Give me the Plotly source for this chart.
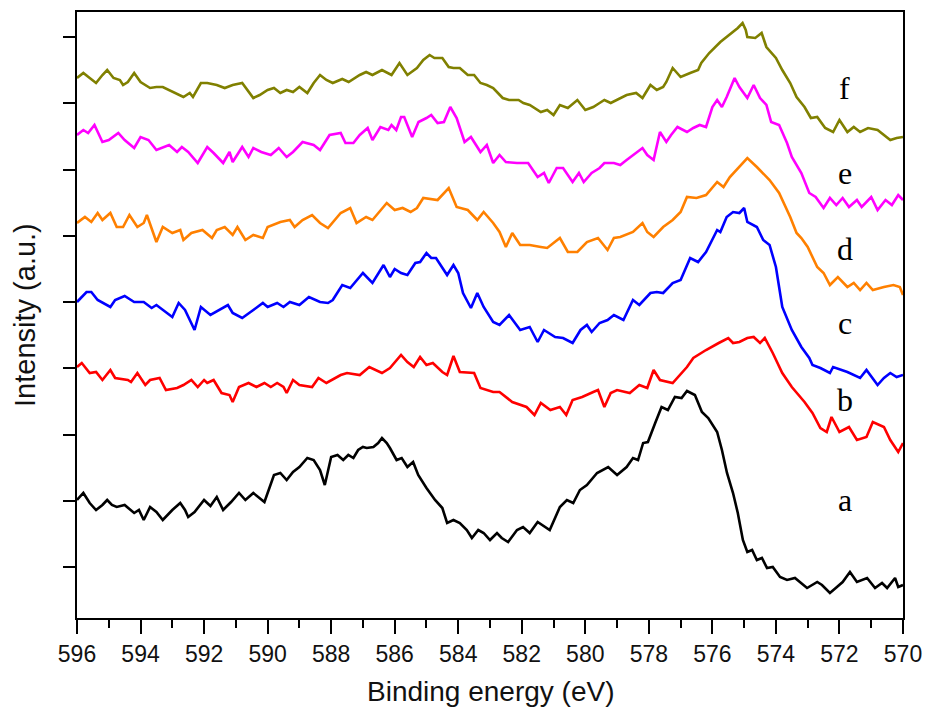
import plotly.graph_objects as go

# ---- data (binding energy in eV, intensity in arbitrary units) ----
a_x = [596.0, 595.8, 595.6, 595.4, 595.2, 595.05, 594.9, 594.75, 594.5, 594.2, 594.05, 593.9, 593.7, 593.5,
       593.3, 593.0, 592.75, 592.6, 592.5, 592.3, 592.0, 591.8, 591.6, 591.4, 591.15, 590.9, 590.7, 590.45,
       590.1, 589.8, 589.6, 589.4, 589.2, 589.0, 588.75, 588.55, 588.35, 588.2, 588.0, 587.8, 587.62, 587.46,
       587.3, 587.15, 587.0, 586.88, 586.67, 586.52, 586.4, 586.25, 586.15, 585.94, 585.78, 585.6, 585.42, 585.26,
       585.0, 584.73, 584.5, 584.35, 584.15, 583.95, 583.73, 583.57, 583.37, 583.2, 583.0, 582.78, 582.63, 582.43,
       582.15, 581.96, 581.75, 581.5, 581.12, 580.8, 580.58, 580.38, 580.17, 579.95, 579.63, 579.28, 579.0, 578.7,
       578.5, 578.34, 578.18, 578.03, 577.8, 577.6, 577.4, 577.18, 576.97, 576.8, 576.55, 576.33, 576.13, 575.85,
       575.7, 575.54, 575.35, 575.2, 575.04, 574.9, 574.75, 574.6, 574.44, 574.28, 574.1, 573.87, 573.65, 573.4,
       573.02, 572.7, 572.55, 572.3, 572.08, 571.9, 571.67, 571.45, 571.13, 570.88, 570.66, 570.5, 570.25, 570.15,
       570.0]
a_y = [118, 125, 115, 108, 113, 118, 113, 111, 113, 105, 108, 98, 111, 106,
       98, 108, 115, 108, 101, 106, 118, 112, 121, 108, 116, 125, 118, 125,
       116, 143, 145, 138, 146, 151, 160, 158, 148, 133, 161, 163, 158, 163,
       160, 168, 171, 170, 171, 175, 180, 175, 170, 158, 160, 151, 156, 143,
       130, 118, 110, 95, 98, 95, 88, 80, 88, 85, 78, 85, 80, 76,
       88, 91, 85, 96, 88, 111, 118, 115, 128, 133, 145, 151, 143, 151,
       160, 158, 175, 176, 195, 211, 208, 221, 220, 227, 223, 206, 200, 186,
       168, 145, 125, 105, 78, 66, 68, 58, 60, 50, 51, 41, 38, 40,
       30, 36, 33, 25, 31, 36, 46, 36, 40, 30, 35, 30, 40, 31,
       33]

b_x = [596.0, 595.85, 595.6, 595.4, 595.2, 594.95, 594.8, 594.4, 594.3, 594.1, 593.85, 593.7, 593.4, 593.2,
       592.85, 592.65, 592.4, 592.2, 592.0, 591.9, 591.7, 591.45, 591.2, 591.1, 590.9, 590.6, 590.35, 590.1,
       589.9, 589.7, 589.5, 589.4, 589.2, 589.0, 588.6, 588.4, 588.15, 587.7, 587.5, 587.1, 586.8, 586.4,
       586.15, 585.8, 585.6, 585.4, 585.2, 585.0, 584.8, 584.5, 584.35, 584.15, 583.95, 583.5, 583.3, 582.9,
       582.7, 582.3, 581.85, 581.6, 581.4, 581.1, 580.8, 580.6, 580.4, 580.1, 579.75, 579.6, 579.4, 579.2,
       579.0, 578.6, 578.3, 578.05, 577.85, 577.65, 577.25, 576.8, 576.6, 576.2, 575.8, 575.5, 575.35, 575.15,
       574.9, 574.7, 574.5, 574.35, 574.1, 574.0, 573.8, 573.5, 573.1, 572.85, 572.6, 572.4, 572.25, 572.0,
       571.7, 571.45, 571.15, 570.95, 570.6, 570.4, 570.15, 570.0]
b_y = [251, 255, 245, 246, 238, 248, 240, 238, 236, 245, 233, 238, 240, 228,
       230, 233, 238, 231, 238, 235, 238, 225, 223, 216, 231, 235, 231, 235,
       231, 235, 231, 225, 238, 233, 231, 240, 235, 243, 245, 243, 251, 245,
       250, 263, 256, 251, 261, 253, 255, 246, 243, 262, 246, 245, 230, 226,
       226, 216, 211, 203, 215, 208, 211, 203, 218, 221, 226, 228, 211, 225,
       228, 225, 233, 230, 248, 238, 235, 251, 260, 268, 275, 280, 275, 276,
       280, 281, 275, 280, 265, 258, 245, 231, 216, 205, 190, 186, 201, 186,
       191, 178, 181, 196, 191, 178, 166, 175]

c_x = [596.0, 595.7, 595.55, 595.35, 594.95, 594.8, 594.5, 594.2, 593.9, 593.65, 593.5, 593.3, 593.0, 592.8,
       592.6, 592.3, 592.1, 591.8, 591.5, 591.25, 591.1, 590.8, 590.45, 590.15, 590.0, 589.7, 589.5, 589.3,
       589.0, 588.7, 588.35, 588.1, 587.95, 587.65, 587.4, 587.0, 586.7, 586.35, 586.15, 586.0, 585.8, 585.6,
       585.35, 585.2, 585.0, 584.85, 584.7, 584.35, 584.15, 584.0, 583.85, 583.6, 583.4, 583.2, 582.9, 582.7,
       582.4, 582.05, 581.75, 581.5, 581.3, 580.95, 580.7, 580.4, 580.15, 579.95, 579.8, 579.55, 579.3, 579.1,
       578.8, 578.5, 578.3, 577.95, 577.75, 577.55, 577.25, 577.0, 576.7, 576.45, 576.2, 575.85, 575.75, 575.55,
       575.35, 575.15, 575.0, 574.9, 574.6, 574.4, 574.2, 574.0, 573.8, 573.5, 573.2, 572.95, 572.85, 572.6,
       572.3, 572.2, 571.75, 571.35, 571.15, 570.8, 570.6, 570.4, 570.2, 570.0]
c_y = [316, 326, 326, 318, 311, 318, 322, 316, 316, 310, 313, 308, 301, 315,
       308, 288, 311, 303, 308, 313, 305, 300, 308, 315, 311, 315, 311, 316,
       313, 321, 316, 315, 318, 333, 330, 345, 335, 353, 341, 349, 345, 343,
       355, 356, 365, 360, 360, 343, 353, 345, 325, 310, 325, 311, 296, 293,
       303, 288, 291, 276, 288, 281, 280, 275, 288, 293, 286, 295, 298, 303,
       298, 318, 313, 325, 326, 325, 335, 338, 360, 356, 366, 388, 386, 401,
       406, 405, 410, 396, 391, 378, 373, 351, 311, 288, 271, 260, 253, 250,
       245, 251, 246, 240, 248, 233, 240, 245, 241, 243]

d_x = [596.0, 595.75, 595.55, 595.35, 595.2, 594.95, 594.75, 594.55, 594.35, 594.1, 593.9, 593.8, 593.5, 593.3,
       593.0, 592.75, 592.65, 592.4, 592.05, 591.75, 591.6, 591.35, 591.1, 590.95, 590.7, 590.45, 590.15, 590.0,
       589.6, 589.3, 589.15, 588.9, 588.6, 588.35, 588.1, 587.7, 587.4, 587.2, 586.9, 586.7, 586.25, 586.0,
       585.75, 585.5, 585.3, 585.1, 584.65, 584.3, 584.05, 583.7, 583.4, 583.2, 582.9, 582.7, 582.5, 582.3,
       582.05, 581.75, 581.4, 581.2, 580.8, 580.55, 580.25, 579.95, 579.6, 579.3, 579.1, 578.9, 578.5, 578.2,
       578.05, 577.85, 577.55, 577.25, 577.0, 576.8, 576.5, 576.2, 575.85, 575.65, 575.45, 575.15, 574.9, 574.6,
       574.4, 574.2, 573.9, 573.55, 573.35, 573.2, 573.0, 572.7, 572.5, 572.3, 572.05, 571.75, 571.55, 571.35,
       571.15, 570.95, 570.6, 570.3, 570.1, 570.0]
d_y = [395, 401, 396, 405, 398, 405, 391, 391, 403, 391, 395, 403, 376, 391,
       385, 388, 378, 385, 388, 380, 388, 391, 383, 391, 378, 383, 380, 391,
       396, 398, 391, 398, 403, 395, 390, 405, 410, 395, 401, 398, 415, 408,
       410, 406, 410, 420, 418, 430, 411, 408, 398, 406, 395, 386, 371, 385,
       373, 373, 371, 370, 380, 366, 366, 376, 380, 368, 380, 381, 386, 395,
       386, 381, 391, 398, 406, 421, 420, 423, 436, 431, 441, 451, 460, 451,
       445, 438, 425, 401, 385, 380, 371, 351, 345, 333, 341, 331, 335, 328,
       335, 328, 331, 333, 331, 323]

e_x = [596.0, 595.8, 595.65, 595.45, 595.2, 595.0, 594.7, 594.5, 594.2, 594.0, 593.75, 593.5, 593.1, 592.85,
       592.7, 592.5, 592.2, 591.9, 591.7, 591.4, 591.2, 591.1, 590.8, 590.6, 590.45, 590.2, 589.9, 589.65,
       589.4, 589.2, 588.9, 588.55, 588.35, 588.05, 587.7, 587.55, 587.3, 587.1, 586.85, 586.7, 586.45, 586.2,
       586.1, 585.95, 585.8, 585.7, 585.45, 585.25, 585.0, 584.85, 584.65, 584.45, 584.25, 584.05, 583.8, 583.6,
       583.3, 583.1, 582.9, 582.7, 582.5, 582.15, 581.8, 581.5, 581.3, 581.15, 580.9, 580.7, 580.4, 580.2,
       580.05, 579.8, 579.55, 579.4, 579.1, 578.9, 578.7, 578.4, 578.2, 578.05, 577.85, 577.65, 577.45, 577.3,
       577.1, 576.8, 576.6, 576.4, 576.2, 576.0, 575.85, 575.7, 575.55, 575.3, 575.15, 574.9, 574.7, 574.5,
       574.3, 574.15, 573.9, 573.65, 573.5, 573.2, 572.95, 572.75, 572.5, 572.3, 572.1, 571.9, 571.7, 571.45,
       571.3, 571.0, 570.8, 570.55, 570.35, 570.15, 570.0]
e_y = [483, 488, 485, 493, 476, 478, 485, 478, 470, 481, 478, 468, 473, 466,
       471, 466, 455, 471, 465, 455, 466, 456, 471, 461, 470, 466, 463, 470,
       461, 466, 476, 473, 468, 483, 485, 475, 475, 483, 490, 478, 491, 488,
       493, 488, 501, 501, 481, 496, 500, 503, 495, 496, 511, 500, 476, 481,
       466, 473, 455, 463, 456, 455, 455, 441, 445, 435, 450, 450, 436, 445,
       436, 445, 450, 455, 455, 453, 458, 465, 470, 463, 458, 486, 476, 483,
       491, 486, 490, 493, 491, 511, 518, 511, 521, 540, 531, 520, 533, 520,
       513, 496, 493, 475, 461, 445, 425, 421, 410, 420, 413, 420, 411, 418,
       411, 421, 408, 418, 413, 423, 418]

f_x = [596.0, 595.8, 595.6, 595.4, 595.2, 595.05, 594.85, 594.65, 594.55, 594.4, 594.2, 594.0, 593.7, 593.5,
       593.3, 593.0, 592.65, 592.45, 592.35, 592.1, 591.9, 591.6, 591.35, 591.1, 590.8, 590.45, 590.25, 590.0,
       589.8, 589.6, 589.4, 589.2, 589.0, 588.75, 588.55, 588.35, 588.15, 587.95, 587.65, 587.45, 587.25, 587.1,
       586.9, 586.7, 586.4, 586.1, 585.85, 585.6, 585.3, 585.1, 584.9, 584.75, 584.5, 584.3, 584.15, 583.95,
       583.7, 583.5, 583.3, 583.1, 582.9, 582.6, 582.4, 582.1, 581.95, 581.75, 581.4, 581.2, 581.0, 580.8,
       580.55, 580.25, 580.0, 579.75, 579.55, 579.4, 579.2, 578.9, 578.7, 578.4, 578.2, 577.95, 577.75, 577.55,
       577.45, 577.25, 577.0, 576.7, 576.45, 576.35, 576.1, 575.75, 575.55, 575.4, 575.2, 575.05, 574.95, 574.9,
       574.65, 574.45, 574.3, 574.0, 573.8, 573.55, 573.35, 573.1, 572.9, 572.7, 572.45, 572.2, 572.0, 571.75,
       571.55, 571.35, 571.1, 570.8, 570.6, 570.4, 570.2, 570.0]
f_y = [540, 545, 540, 535, 543, 548, 540, 538, 533, 536, 545, 536, 530, 531,
       531, 526, 521, 525, 521, 535, 535, 533, 530, 533, 535, 520, 523, 528,
       530, 525, 528, 526, 531, 525, 535, 543, 538, 535, 539, 536, 540, 543,
       546, 543, 548, 543, 555, 543, 550, 558, 563, 560, 560, 551, 550, 550,
       543, 543, 535, 533, 530, 520, 518, 518, 515, 513, 506, 508, 503, 513,
       510, 518, 508, 511, 515, 518, 515, 520, 523, 525, 520, 533, 528, 531,
       536, 550, 541, 545, 548, 555, 565, 576, 581, 585, 590, 595, 588, 581,
       580, 585, 571, 560, 548, 535, 521, 511, 500, 501, 490, 486, 498, 486,
       491, 486, 490, 488, 483, 478, 480, 481]

series_names = ["a", "b", "c", "d", "e", "f"]
series_x = [a_x, b_x, c_x, d_x, e_x, f_x]
series_y = [a_y, b_y, c_y, d_y, e_y, f_y]
colors = ["#000000", "#ff0000", "#0000ff", "#ff8000", "#ff00ff", "#808000"]

label_x = 571.83
label_y = [118, 218, 295, 369, 445, 530]

x_ticks = list(range(596, 569, -2))

fig = go.Figure()
for name, xs, ys, col in zip(series_names, series_x, series_y, colors):
    fig.add_trace(go.Scatter(x=xs, y=ys, mode="lines", name=name,
                             line=dict(color=col, width=2.6), showlegend=False))

for name, ly in zip(series_names, label_y):
    fig.add_annotation(x=label_x, y=ly, text=name, showarrow=False,
                       xanchor="center", yanchor="middle",
                       font=dict(family="Liberation Serif, Times New Roman, serif", size=32, color="black"))

fig.add_annotation(xref="paper", yref="paper", x=0.5, y=-0.122, text="Binding energy (eV)",
                   showarrow=False, xanchor="center", yanchor="middle",
                   font=dict(family="Liberation Sans, Arial, sans-serif", size=28, color="#111"))
fig.add_annotation(xref="paper", yref="paper", x=-0.063, y=0.5, text="Intensity (a.u.)",
                   showarrow=False, xanchor="center", yanchor="middle", textangle=-90,
                   font=dict(family="Liberation Sans, Arial, sans-serif", size=29, color="#111"))

fig.update_layout(
    width=925, height=713, autosize=False,
    margin=dict(l=77, r=22, t=12, b=95, autoexpand=False),
    paper_bgcolor="white", plot_bgcolor="white",
    font=dict(family="Liberation Sans, Arial, sans-serif", color="#111"),
)
fig.update_xaxes(range=[596, 570], tickvals=x_ticks, ticktext=[str(v) for v in x_ticks],
                 ticks="outside", ticklen=14, tickwidth=2, tickcolor="black",
                 minor=dict(ticks="outside", ticklen=8, tickwidth=2, tickcolor="black", dtick=1),
                 showline=True, linewidth=2, linecolor="black", mirror=True, automargin=False,
                 showgrid=False, zeroline=False, tickfont=dict(size=23, color="#111"))
fig.update_yaxes(range=[0, 606], tick0=51, dtick=66.25, showticklabels=False,
                 ticks="outside", ticklen=12, tickwidth=2, tickcolor="black",
                 showline=True, linewidth=2, linecolor="black", mirror=True, automargin=False,
                 showgrid=False, zeroline=False)

fig.write_html("out.html")
